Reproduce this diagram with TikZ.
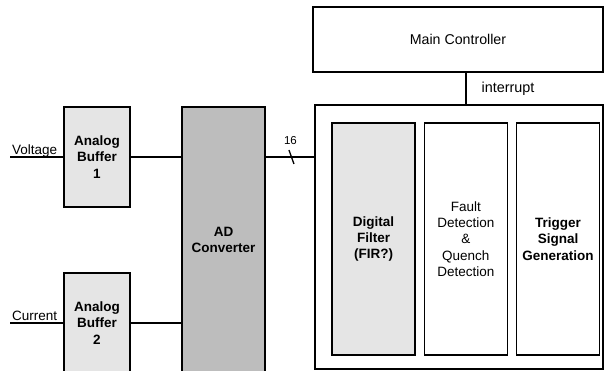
\documentclass[tikz,border=0pt]{standalone}
\usepackage{fontspec}
\setmainfont{Liberation Sans}
\usetikzlibrary{positioning,calc}
\definecolor{lgr}{gray}{0.9}
\definecolor{dgr}{gray}{0.74}
\tikzset{
  blk/.style={draw,line width=1.3pt,align=center,inner sep=0pt,font=\fontsize{13.5}{16.25}\selectfont},
  bblk/.style={blk,font=\fontsize{13.5}{16.25}\selectfont\bfseries},
  lbl/.style={inner sep=0pt,font=\fontsize{13.5}{16}\selectfont},
  wire/.style={line width=1.3pt},
}
\begin{document}
\begin{tikzpicture}[x=1pt,y=1pt,node distance=8pt]
\useasboundingbox (0,0) rectangle (615,371);
\clip (0,0) rectangle (615,371);
% controller and processing block
\node[blk,font=\fontsize{14.2}{17}\selectfont,minimum width=290,minimum height=65] (mc) at (458,331.5) {Main Controller};
\node[blk,minimum width=288,minimum height=264] (dsp) at (459,134) {};
\node[bblk,fill=lgr,minimum width=83,minimum height=232] (filt) at (373.5,132) {Digital\\Filter\\(FIR?)};
\node[blk,minimum width=83,minimum height=232,right=of filt] (fault) {Fault\\Detection\\\&\\Quench\\Detection};
\node[bblk,minimum width=83,minimum height=232,right=of fault] (trig) {Trigger\\Signal\\Generation};
\draw[wire] ([xshift=8]mc.south) -- ([xshift=8]mc.south |- dsp.north)
  node[lbl,font=\fontsize{14.4}{17}\selectfont,pos=0.5,right=15pt] {interrupt};
% analog front end
\node[bblk,fill=lgr,minimum width=66,minimum height=100] (buf1) at (97,214) {Analog\\Buffer\\1};
\node[bblk,fill=lgr,minimum width=66,minimum height=100] (buf2) at (97,48) {Analog\\Buffer\\2};
\node[bblk,fill=dgr,minimum width=83,minimum height=266] (adc) at (223.5,131) {AD\\Converter};
\coordinate (vin) at (10,214);
\coordinate (iin) at (10,48);
\draw[wire] (vin) -- (buf1.west);
\draw[wire] (iin) -- (buf2.west);
\node[lbl,anchor=base west] at ($(vin)+(2,2)$) {Voltage};
\node[lbl,anchor=base west] at ($(iin)+(2,2)$) {Current};
\draw[wire] (buf1.east) -- (buf1.east -| adc.west);
\draw[wire] (buf2.east) -- (buf2.east -| adc.west);
% 16 bit bus
\draw[wire] (buf1.east -| adc.east) -- coordinate[pos=0.53] (bus) (buf1.east -| dsp.west);
\draw[line width=1.3pt] ($(bus)+(-2.5,7)$) -- ($(bus)+(2.5,-7)$);
\node[inner sep=0pt,font=\fontsize{11.5}{13}\selectfont] at ($(bus)+(-1,16)$) {16};
\end{tikzpicture}
\end{document}
